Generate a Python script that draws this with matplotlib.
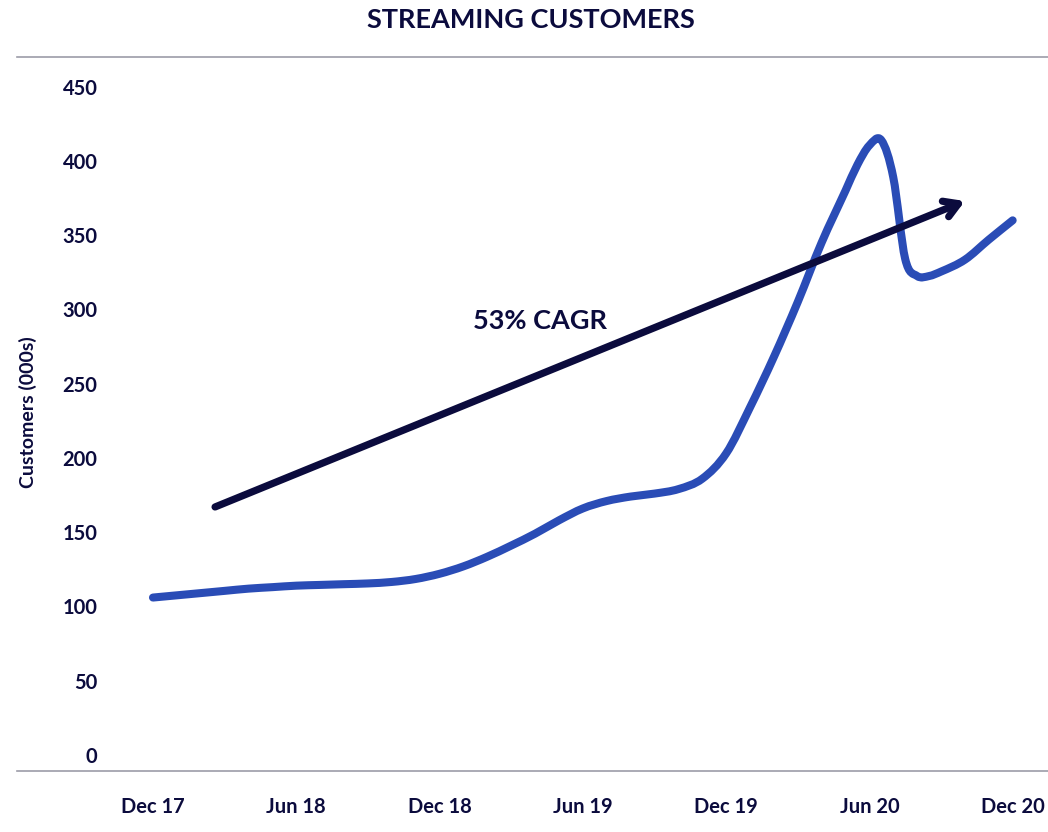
import numpy as np
import matplotlib
matplotlib.use('Agg')
import matplotlib.pyplot as plt
from matplotlib.path import Path
from matplotlib.patches import PathPatch
from matplotlib.lines import Line2D

# customers (000s); months counted from Dec 17,
# with half-month readings around the mid-2020 spike
months = list(range(0, 30)) + [29.5, 30, 30.5, 31, 31.5, 32, 32.5, 33, 34, 35, 36]
months = sorted(set(months))
customers = [106, 107.5, 109, 110.5, 112, 113, 114, 114.5, 115, 115.5, 116.5, 118.5,
             122, 127, 133.5, 141, 149, 158, 166, 171, 174, 176, 179, 186,
             203, 234, 268, 305, 345, 380,
             397.5, 410.5, 414, 389, 334, 322.5, 322.5, 325.5, 333.5, 347, 360]
tick_labels = ['Dec 17', 'Jun 18', 'Dec 18', 'Jun 19', 'Dec 19', 'Jun 20', 'Dec 20']
tick_months = [0, 6, 12, 18, 24, 30, 36]
y_ticks = [0, 50, 100, 150, 200, 250, 300, 350, 400, 450]
cagr_start = (2.6, 167)   # arrow tail (month, customers)
cagr_end = (34.0, 373)    # arrow tip
cagr_label = '53% CAGR'

NAVY = '#0b0b3d'
BLUE = '#2a4cb6'
GREY = '#9c9ca8'

plt.rcParams['font.family'] = ['Lato', 'DejaVu Sans']


def smooth_path(x, y):
    """Cardinal cubic through the points (central tangents), as bezier segments."""
    x = np.asarray(x, float)
    y = np.asarray(y, float)
    h = np.diff(x)
    d = np.diff(y) / h
    m = np.empty_like(y)
    m[0], m[-1] = d[0], d[-1]
    m[1:-1] = (d[:-1] + d[1:]) / 2
    verts = [(x[0], y[0])]
    codes = [Path.MOVETO]
    for i in range(len(y) - 1):
        verts += [(x[i] + h[i] / 3, y[i] + m[i] * h[i] / 3),
                  (x[i + 1] - h[i] / 3, y[i + 1] - m[i + 1] * h[i] / 3),
                  (x[i + 1], y[i + 1])]
        codes += [Path.CURVE4] * 3
    return Path(verts, codes)


fig = plt.figure(figsize=(10.48, 8.32), dpi=100)
W, H = 1048, 832
ax = fig.add_axes([110 / W, (H - 771) / H, (1048 - 110) / W, (771 - 57) / H])

patch = PathPatch(smooth_path(months, customers), facecolor='none', edgecolor=BLUE,
                  lw=5.8, capstyle='round', joinstyle='round')
ax.add_patch(patch)

ax.annotate('', xy=cagr_end, xytext=cagr_start,
            arrowprops=dict(arrowstyle='->,head_length=1.0,head_width=0.6',
                            color=NAVY, lw=5.2, shrinkA=0, shrinkB=0))
ax.text(16.2, 292, cagr_label, ha='center', va='center', fontsize=19.5,
        fontweight='bold', color=NAVY)

ax.set_xlim(-1.8, 37.48)
ax.set_ylim(-10.8, 470)
ax.set_xticks(tick_months)
ax.set_xticklabels(tick_labels)
ax.set_yticks(y_ticks)
ax.tick_params(length=0, labelcolor=NAVY, labelsize=14.5)
ax.tick_params(axis='x', pad=19)
ax.tick_params(axis='y', pad=9)
for lab in ax.get_xticklabels() + ax.get_yticklabels():
    lab.set_fontweight('bold')
for s in ax.spines.values():
    s.set_visible(False)

# horizontal rules under the title and along the base
for yy in (57, 771):
    fig.add_artist(Line2D([17 / W, 1.0], [(H - yy) / H] * 2, color=GREY, lw=1.2))

fig.text(531 / W, (H - 20) / H, 'STREAMING CUSTOMERS', ha='center', va='center',
         fontsize=19.5, fontweight='bold', color=NAVY)
fig.text(28 / W, (H - 412) / H, 'Customers (000s)', rotation=90, ha='center',
         va='center', fontsize=14, fontweight='bold', color=NAVY)

fig.savefig('out.png', dpi=100)
